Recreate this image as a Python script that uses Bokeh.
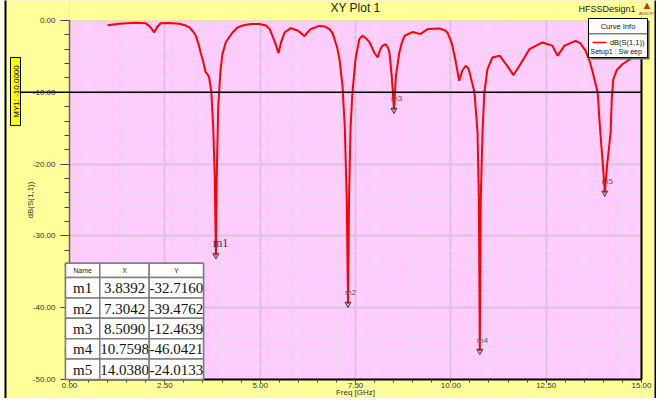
import math
from bokeh.plotting import figure
from bokeh.models import (Range1d, SingleIntervalTicker, PrintfTickFormatter,
                          BoxAnnotation, Label)
from bokeh.core.properties import value
from bokeh.embed import file_html
from bokeh.resources import INLINE

# ---------------- data ----------------
freq = [1.0, 1.3, 1.73, 2.0, 2.12, 2.22, 2.3, 2.39, 2.6, 2.88, 3.05, 3.15, 3.25, 3.31, 3.38,
        3.44, 3.5, 3.57, 3.62, 3.66, 3.72, 3.77, 3.81, 3.8392, 3.86, 3.9, 3.96, 4.01, 4.1,
        4.27, 4.4, 4.54, 4.75, 4.98, 5.15, 5.25, 5.32, 5.42, 5.48, 5.55, 5.64, 5.8, 5.98,
        6.1, 6.16, 6.25, 6.32, 6.55, 6.7, 6.82, 6.9, 6.95, 7.02, 7.08, 7.16, 7.22, 7.27,
        7.3042, 7.33, 7.37, 7.42, 7.5, 7.6, 7.68, 7.78, 7.87, 7.99, 8.08, 8.15, 8.21, 8.29,
        8.35, 8.39, 8.45, 8.509, 8.56, 8.65, 8.72, 8.79, 9.0, 9.2, 9.39, 9.7, 9.85, 9.91,
        10.0, 10.04, 10.12, 10.22, 10.3, 10.39, 10.45, 10.49, 10.55, 10.62, 10.7, 10.735,
        10.7598, 10.785, 10.83, 10.88, 10.96, 11.09, 11.28, 11.45, 11.64, 11.8, 12.06,
        12.4, 12.66, 12.8, 12.98, 13.27, 13.4, 13.53, 13.65, 13.72, 13.85, 13.92, 14.0,
        14.038, 14.1, 14.19, 14.22, 14.26, 14.35, 14.5, 14.76, 14.95, 15.0]
s11 = [-0.65, -0.45, -0.3, -0.4, -0.9, -1.67, -0.9, -0.38, -0.35, -0.45, -0.7, -1.0, -1.6,
       -2.1, -3.2, -4.5, -5.6, -7.2, -7.5, -7.9, -10.0, -15.0, -22.0, -32.716, -22.0, -12.0,
       -7.0, -4.7, -3.0, -1.7, -1.0, -0.7, -0.5, -0.5, -0.7, -1.2, -2.1, -3.5, -4.55, -3.0,
       -1.67, -1.07, -1.4, -1.9, -2.2, -1.6, -1.2, -0.75, -0.85, -1.2, -1.8, -2.6, -3.8,
       -5.4, -9.1, -15.0, -25.0, -39.4762, -25.0, -15.0, -10.0, -5.4, -2.6, -2.1, -2.5,
       -3.06, -4.45, -5.15, -4.0, -3.5, -3.3, -3.8, -4.45, -7.7, -12.4639, -7.7, -4.45,
       -3.0, -2.1, -1.6, -1.9, -1.2, -1.1, -1.4, -1.67, -2.8, -3.5, -5.5, -8.4, -7.0, -6.3,
       -6.6, -7.2, -8.5, -10.0, -15.6, -25.0, -46.0421, -25.0, -15.6, -10.0, -6.8, -5.15,
       -4.9, -6.1, -7.6, -6.3, -4.0, -3.06, -3.5, -4.9, -3.5, -2.83, -3.2, -4.2, -5.8, -7.2,
       -10.0, -15.6, -21.0, -24.0133, -20.0, -15.6, -11.0, -8.2, -6.9, -6.1, -5.15, -4.2,
       -4.0]

marker_names = ["m1", "m2", "m3", "m4", "m5"]
marker_x = [3.8392, 7.3042, 8.5090, 10.7598, 14.0380]
marker_y = [-32.7160, -39.4762, -12.4639, -46.0421, -24.0133]
table_header = ["Name", "X", "Y"]
ref_line_value = -10.0
x_min, x_max, x_step = 0.0, 15.0, 2.5
y_min, y_max, y_step = -50.0, 0.0, 10.0

# ---------------- layout constants (figure pixels) ----------------
W, H = 656, 398
FL, FT, FW, FH = 69, 20, 572, 359      # plot area inside the canvas
YELLOW = "#FFFF99"
PINK = "#FFCCFF"
SANS = "Liberation Sans"
SERIF = "Liberation Serif"


def X(fx):
    return x_min + (fx - FL) / FW * (x_max - x_min)


def Y(fy):
    return y_max - (fy - FT) / FH * (y_max - y_min)


p = figure(width=W, height=H, x_range=Range1d(X(0), X(W)), y_range=Range1d(Y(H), Y(0)),
           output_backend="svg", toolbar_location=None,
           min_border_left=0, min_border_right=0, min_border_top=0, min_border_bottom=0)
p.background_fill_color = PINK
p.border_fill_color = YELLOW
p.outline_line_color = None

xt = SingleIntervalTicker(interval=x_step, num_minor_ticks=5)
yt = SingleIntervalTicker(interval=y_step, num_minor_ticks=5)
p.xaxis.ticker = xt
p.yaxis.ticker = yt
p.xgrid.ticker = xt
p.ygrid.ticker = yt
for g in (p.xgrid, p.ygrid):
    g.grid_line_color = "#D9C3D9"
    g.grid_line_width = 2
    g.minor_grid_line_color = "#EDDAED"
    g.minor_grid_line_width = 1
p.xgrid.bounds = (x_min, x_max)
p.ygrid.bounds = (y_min, y_max)

# axes pinned to the plot area edges
p.xaxis.fixed_location = y_min
p.yaxis.fixed_location = x_min
p.xaxis.bounds = (x_min, x_max)
p.yaxis.bounds = (y_min, y_max)
for ax in (p.xaxis, p.yaxis):
    ax.formatter = PrintfTickFormatter(format="%.2f")
    ax.major_label_text_font = SANS
    ax.major_label_text_font_size = "8px"
    ax.major_label_text_color = "#333333"
    ax.major_tick_in = 0
    ax.minor_tick_in = 0
    ax.major_tick_line_color = "#444444"
    ax.minor_tick_line_color = "#444444"

p.xaxis.axis_line_color = "black"
p.xaxis.axis_line_width = 2
p.xaxis.major_tick_out = 3
p.xaxis.minor_tick_out = 3
p.xaxis.major_label_standoff = 0
p.yaxis.axis_line_color = "#666666"
p.yaxis.axis_line_width = 1.5
p.yaxis.major_tick_out = 9
p.yaxis.minor_tick_out = 5
p.yaxis.major_label_standoff = 5


def box(x0, y0, x1, y1, fill, line=None, lw=1.0, level="overlay"):
    p.add_layout(BoxAnnotation(left=X(x0), right=X(x1), top=Y(y0), bottom=Y(y1),
                               fill_color=fill, fill_alpha=1.0,
                               line_color=line, line_alpha=1.0 if line else 0.0,
                               line_width=lw, level=level))


def label(fx, fy, text, size="8px", font=SANS, color="#222222", align="center",
          baseline="middle", angle=0.0):
    p.add_layout(Label(x=X(fx), y=Y(fy), text=text, text_font=font, text_font_size=size,
                       text_color=color, text_align=align, text_baseline=baseline,
                       angle=angle, level="overlay"))


# yellow surround (covers grid overflow outside the plot area)
box(-10, -10, FL, H + 10, YELLOW, level="underlay")
box(FL + FW, -10, W + 10, H + 10, YELLOW, level="underlay")
box(FL, -10, FL + FW, FT, YELLOW, level="underlay")
box(FL, FT + FH, FL + FW, H + 10, YELLOW, level="underlay")

# curve
p.line(freq, s11, line_color="#FF0000", line_width=2)

# markers
p.scatter(marker_x, marker_y, marker="inverted_triangle", size=6, fill_color="#888888",
          fill_alpha=0.3, line_color="#333333", line_width=1)
p.text(marker_x[:1], marker_y[:1], text=marker_names[:1], x_offset=-3, y_offset=-12,
       text_font=value(SERIF), text_font_size="12px", text_color="#333333",
       text_baseline="middle", text_align="left")
p.text(marker_x[1:], marker_y[1:], text=marker_names[1:], x_offset=-3, y_offset=-11,
       text_font=value(SANS), text_font_size="8px", text_color="#555555",
       text_baseline="middle", text_align="left")

# right plot border
box(FL + FW - 1, FT, FL + FW + 1, FT + FH, "black")

# outer frame
box(-10, -10, 4, H + 10, "white")
box(4, -10, 6, H + 10, "black")
box(654, -10, 657, H + 10, "black")

# MY1 reference line + tag
ref_fy = FT + (y_max - ref_line_value) / (y_max - y_min) * FH
box(20, ref_fy - 0.75, FL + FW, ref_fy + 0.75, "black")
box(10, 57, 20, 125, "#FFFF00", "black", 1)
label(15.5, 91, "MY1: -10.0000", size="8px", color="black", angle=math.pi / 2)

# axis titles
label(30, FT + FH / 2, "dB(S(1,1))", size="8px", color="#333333", angle=math.pi / 2)
label(FL + FW / 2, 391.5, "Freq [GHz]", size="8px", color="#333333")

# title & design name
label(FL + FW / 2, 7, "XY Plot 1", size="12px", color="#222222")
label(635, 8, "HFSSDesign1", size="9px", color="#222222", align="right")
label(646.5, 10, "\u25B2", size="11px", color="#C03030", baseline="bottom")
label(646.5, 13, "ANSOFT", size="4px", color="#993333")

# legend
box(590, 20, 649, 59, "#666666")
box(588, 18, 647, 57, "white", "black", 1)
box(588, 33, 647, 33.8, "black")
label(617.5, 26, "Curve Info", size="7.5px", color="#111111")
box(592, 41.2, 606, 42.8, "#FF0000")
label(644, 42, "dB(S(1,1))", size="7.5px", color="#111111", align="right")
label(590, 51, "Setup1 : Sw eep", size="7px", color="#111111", align="left")

# marker table
cols = [65, 99.3, 148.7, 203]
t_top, h_bot = 262.7, 277.0
row_h = (FT + FH - h_bot) / len(marker_names)
box(cols[0], t_top, cols[-1], FT + FH, "white", "#7F7F7F", 1.5)
for j in range(3):
    box(cols[j], t_top, cols[j + 1], h_bot, "white", "#7F7F7F", 1.5)
    label((cols[j] + cols[j + 1]) / 2, (t_top + h_bot) / 2 + 0.5, table_header[j],
          size="7px", color="#222222")
for i in range(len(marker_names)):
    y0 = h_bot + i * row_h
    vals = [marker_names[i], "%.4f" % marker_x[i], "%.4f" % marker_y[i]]
    for j in range(3):
        box(cols[j], y0, cols[j + 1], y0 + row_h, "white", "#7F7F7F", 1.5)
        label((cols[j] + cols[j + 1]) / 2, y0 + row_h / 2 + 0.5, vals[j], size="15px",
              font=SERIF, color="#111111")

open("out.html", "w").write(file_html(p, INLINE))
